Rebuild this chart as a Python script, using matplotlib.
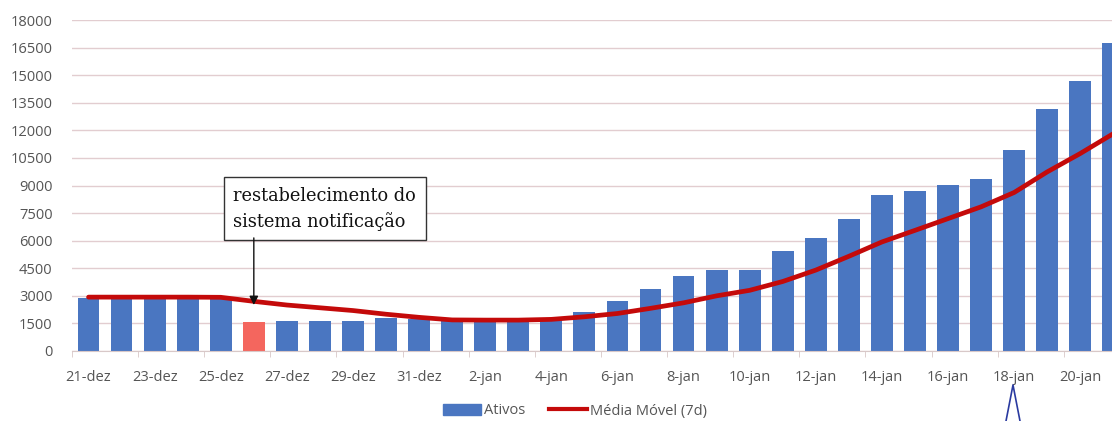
import numpy as np
import matplotlib.pyplot as plt
from matplotlib.lines import Line2D

# dados
dias = ['21-dez', '22-dez', '23-dez', '24-dez', '25-dez', '26-dez', '27-dez', '28-dez',
        '29-dez', '30-dez', '31-dez', '1-jan', '2-jan', '3-jan', '4-jan', '5-jan',
        '6-jan', '7-jan', '8-jan', '9-jan', '10-jan', '11-jan', '12-jan', '13-jan',
        '14-jan', '15-jan', '16-jan', '17-jan', '18-jan', '19-jan', '20-jan', '21-jan']
ativos = [2900, 2900, 2900, 2900, 2900, 1600, 1650, 1650,
          1650, 1775, 1750, 1650, 1650, 1650, 1700, 2130,
          2730, 3350, 4070, 4430, 4430, 5450, 6120, 7200,
          8470, 8690, 9010, 9380, 10910, 13180, 14680, 16760]
media_movel = [2930, 2930, 2930, 2930, 2920, 2700, 2500, 2350,
               2200, 2000, 1830, 1690, 1680, 1680, 1720, 1860,
               2040, 2320, 2620, 3000, 3300, 3780, 4400, 5150,
               5930, 6560, 7200, 7840, 8620, 9740, 10740, 11820]
destaque = 5  # 26-dez

x = np.arange(len(dias))
cores = ['#4a76c1'] * len(dias)
cores[destaque] = '#f4665e'

fig = plt.figure(figsize=(11.12, 4.21), dpi=100)
ax = fig.add_axes([72 / 1112, 70 / 421, 1040 / 1112, 331 / 421])

ax.bar(x, ativos, width=0.66, color=cores, zorder=2)
ax.plot(x, media_movel, color='#c40a0a', lw=3.4, zorder=3, solid_capstyle='round')

ax.set_ylim(0, 18000)
ax.set_xlim(-0.48, 30.96)
ax.set_yticks(np.arange(0, 18001, 1500))
ax.yaxis.grid(True, color='#e2cdd0', lw=1, zorder=0)
ax.tick_params(axis='y', length=0, labelsize=10.5, labelcolor='#555555', pad=14)

ax.set_xticks(x[::2])
ax.set_xticklabels(dias[::2])
ax.set_xticks(x[::2] - 0.5, minor=True)
ax.tick_params(axis='x', which='major', length=0, labelsize=10.5, labelcolor='#555555', pad=14)
ax.tick_params(axis='x', which='minor', length=4, color='#d8c8c8')

for s in ['top', 'right', 'left']:
    ax.spines[s].set_visible(False)
ax.spines['bottom'].set_color('#d8c8c8')

for lab in ax.get_xticklabels() + ax.get_yticklabels():
    lab.set_fontfamily('Open Sans')

# caixa de anotação
ax.text(4.38, 7740, 'restabelecimento do\nsistema notificação',
        fontsize=12.8, family='DejaVu Serif', color='#111111',
        ha='left', va='center', linespacing=1.45,
        bbox=dict(boxstyle='square,pad=0.55', fc='white', ec='#333333', lw=1),
        zorder=5)
ax.annotate('', xy=(destaque, 2500), xytext=(destaque, 6150),
            arrowprops=dict(arrowstyle='-|>', color='#111111', lw=1,
                            mutation_scale=13, shrinkA=0, shrinkB=0),
            zorder=5)

# legenda
handles = [plt.Rectangle((0, 0), 1, 1, color='#4a76c1'),
           Line2D([0], [0], color='#c40a0a', lw=3)]
fig.legend(handles, ['Ativos', 'Média Móvel (7d)'], loc='center',
           bbox_to_anchor=(575 / 1112, 1 - 411 / 421), ncol=2, frameon=False,
           prop={'family': 'Open Sans', 'size': 10.5}, labelcolor='#555555',
           handlelength=2.6, handletextpad=0.2, columnspacing=1.6)

# marca de caneta azul abaixo de 18-jan
fig.add_artist(Line2D([1006 / 1112, 1013 / 1112, 1020 / 1112],
                      [1 - 421 / 421, 1 - 385 / 421, 1 - 421 / 421],
                      color='#2a3aa0', lw=1.2))

fig.savefig('out.png', dpi=100)
